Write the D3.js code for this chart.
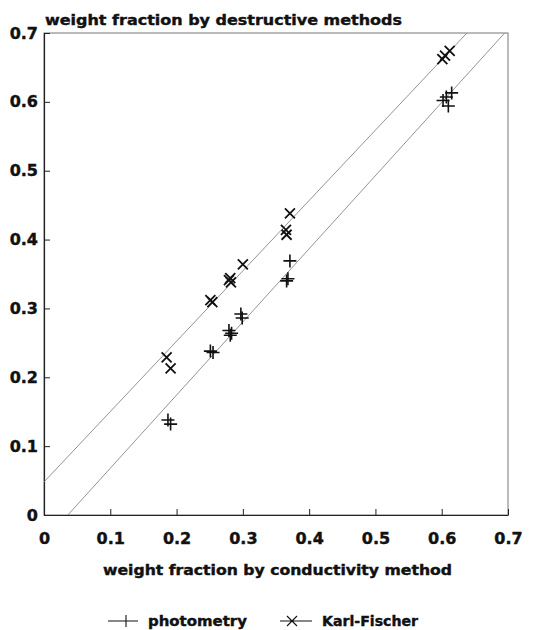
<!DOCTYPE html>
<html lang="en">
<head>
    <meta charset="UTF-8">
    <title>weight fraction</title>
    <script src="https://d3js.org/d3.v7.min.js"></script>
    <style>
        body {
            margin: 0;
            padding: 0;
            background-color: #ffffff;
        }
        svg {
            display: block;
        }
        text {
            font-family: "DejaVu Sans", Arial, sans-serif;
            font-weight: bold;
            fill: #111;
            stroke: #111;
            stroke-width: 0.4px;
        }
    </style>
</head>
<body>
    <svg width="539" height="630"></svg>

    <script>
        // tick labels on both axes
        const tickValues = [0, 0.1, 0.2, 0.3, 0.4, 0.5, 0.6, 0.7];

        // conductivity (x) vs destructive (y), photometry
        const photometry = [
            [0.187, 0.138], [0.191, 0.132],
            [0.251, 0.238], [0.255, 0.236],
            [0.279, 0.268], [0.281, 0.261], [0.283, 0.264],
            [0.297, 0.292], [0.299, 0.286],
            [0.366, 0.340], [0.368, 0.343], [0.371, 0.369],
            [0.602, 0.602], [0.610, 0.594], [0.615, 0.613], [0.607, 0.607]
        ];

        // conductivity (x) vs destructive (y), Karl-Fischer
        const karlFischer = [
            [0.185, 0.229], [0.191, 0.213],
            [0.251, 0.312], [0.254, 0.309],
            [0.279, 0.341], [0.282, 0.338], [0.281, 0.344],
            [0.300, 0.364],
            [0.365, 0.414], [0.366, 0.407], [0.371, 0.438],
            [0.601, 0.662], [0.605, 0.667], [0.612, 0.674]
        ];

        // fitted lines (endpoints)
        const kfLine = [[0, 0.048], [0.638, 0.7]];
        const photoLine = [[0.036, 0], [0.695, 0.7]];

        const svg = d3.select("svg");

        const plotLeft = 44, plotRight = 508, plotTop = 33, plotBottom = 515;

        const x = d3.scaleLinear().domain([0, 0.7]).range([plotLeft, plotRight]);
        const y = d3.scaleLinear().domain([0, 0.7]).range([plotBottom, plotTop]);

        // frame
        svg.append("rect")
            .attr("x", plotLeft)
            .attr("y", plotTop)
            .attr("width", plotRight - plotLeft)
            .attr("height", plotBottom - plotTop)
            .attr("fill", "none")
            .attr("stroke", "#777")
            .attr("stroke-width", 1);

        // axes, ticks pointing inward
        const fmt = d => d === 0 ? "0" : d3.format(".1f")(d);
        const xAxis = d3.axisBottom(x)
            .tickValues(tickValues)
            .tickSizeInner(-6)
            .tickSizeOuter(0)
            .tickFormat(fmt);
        const yAxis = d3.axisLeft(y)
            .tickValues(tickValues)
            .tickSizeInner(-6)
            .tickSizeOuter(0)
            .tickFormat(fmt);

        const gx = svg.append("g")
            .attr("transform", `translate(0,${plotBottom})`)
            .call(xAxis);
        const gy = svg.append("g")
            .attr("transform", `translate(${plotLeft},0)`)
            .call(yAxis);

        [gx, gy].forEach(g => {
            g.select(".domain").attr("stroke", "#222").attr("stroke-width", 1.2);
            g.selectAll(".tick line").attr("stroke", "#222");
            g.selectAll(".tick text")
                .attr("font-size", 16)
                .attr("font-family", "'DejaVu Sans', Arial, sans-serif")
                .attr("font-weight", "bold")
                .attr("fill", "#111");
        });
        gy.selectAll(".tick text").attr("x", -6);
        gx.selectAll(".tick text").attr("y", 18);

        // fitted lines
        const line = d3.line().x(d => x(d[0])).y(d => y(d[1]));
        [kfLine, photoLine].forEach(l => {
            svg.append("path")
                .attr("d", line(l))
                .attr("fill", "none")
                .attr("stroke", "#888")
                .attr("stroke-width", 0.9);
        });

        // markers
        const ph = 6.5, kx = 5;

        svg.append("g").selectAll("path")
            .data(photometry)
            .join("path")
            .attr("d", d => `M${x(d[0]) - ph},${y(d[1])}H${x(d[0]) + ph}M${x(d[0])},${y(d[1]) - ph}V${y(d[1]) + ph}`)
            .attr("stroke", "#111")
            .attr("stroke-width", 1.6)
            .attr("fill", "none");

        svg.append("g").selectAll("path")
            .data(karlFischer)
            .join("path")
            .attr("d", d => `M${x(d[0]) - kx},${y(d[1]) - kx}L${x(d[0]) + kx},${y(d[1]) + kx}M${x(d[0]) - kx},${y(d[1]) + kx}L${x(d[0]) + kx},${y(d[1]) - kx}`)
            .attr("stroke", "#111")
            .attr("stroke-width", 1.8)
            .attr("fill", "none");

        // titles
        svg.append("text")
            .attr("x", 45)
            .attr("y", 25)
            .attr("font-size", 14)
            .attr("textLength", 357)
            .attr("lengthAdjust", "spacingAndGlyphs")
            .text("weight fraction by destructive methods");

        svg.append("text")
            .attr("x", 103)
            .attr("y", 575)
            .attr("font-size", 14)
            .attr("textLength", 349)
            .attr("lengthAdjust", "spacingAndGlyphs")
            .text("weight fraction by conductivity method");

        // legend
        const legend = svg.append("g");
        const legendY = 621;

        legend.append("path")
            .attr("d", `M108,${legendY}H138M126,${legendY - 6}V${legendY + 6}`)
            .attr("stroke", "#111")
            .attr("stroke-width", 1.1)
            .attr("fill", "none");
        legend.append("text")
            .attr("x", 148)
            .attr("y", 626)
            .attr("font-size", 14)
            .attr("textLength", 99)
            .attr("lengthAdjust", "spacingAndGlyphs")
            .text("photometry");

        legend.append("path")
            .attr("d", `M280,${legendY}H312M287,${legendY - 5}L297,${legendY + 5}M287,${legendY + 5}L297,${legendY - 5}`)
            .attr("stroke", "#111")
            .attr("stroke-width", 1.1)
            .attr("fill", "none");
        legend.append("text")
            .attr("x", 322)
            .attr("y", 626)
            .attr("font-size", 14)
            .attr("textLength", 96)
            .attr("lengthAdjust", "spacingAndGlyphs")
            .text("Karl-Fischer");
    </script>
</body>
</html>
